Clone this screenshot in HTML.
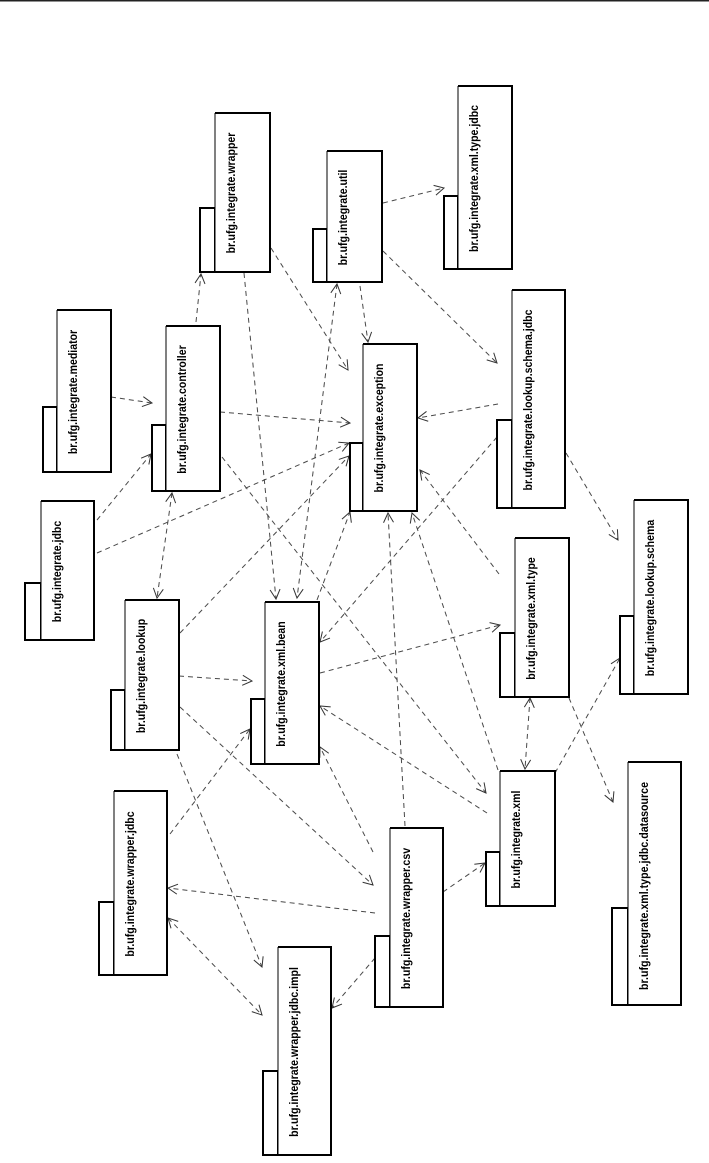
<!DOCTYPE html>
<html>
<head>
<meta charset="utf-8">
<style>
html,body{margin:0;padding:0;background:#fff;}
body{width:709px;height:1163px;overflow:hidden;}
svg{display:block;}
.d{stroke:#484848;stroke-width:1;stroke-dasharray:5,4;fill:none;marker-end:url(#a);}
.r{stroke:none;fill:none;marker-end:url(#a);}
.tab{fill:#fff;stroke:#000;stroke-width:2;}
.mf{fill:#fff;stroke:none;}
.mb{fill:none;stroke:#000;stroke-width:2;}
.ml{stroke:#000;stroke-width:1;}
text{font-family:"Liberation Sans",Arial,sans-serif;font-weight:bold;font-size:12px;fill:#000;}
</style>
</head>
<body>
<svg width="709" height="1163" viewBox="0 0 709 1163" xmlns="http://www.w3.org/2000/svg">
<defs>
<marker id="a" viewBox="0 0 12 12" refX="10" refY="6" markerWidth="12" markerHeight="12" orient="auto" markerUnits="userSpaceOnUse">
<path d="M0.5,1 L10,6 L0.5,11" fill="none" stroke="#333" stroke-width="1"/>
</marker>
</defs>
<rect x="0" y="0" width="709" height="1.5" fill="#222"/>

<!-- edges -->
<line class="d" x1="383" y1="203" x2="444" y2="188"/>
<line class="d" x1="360" y1="286" x2="368" y2="342"/>
<line class="d" x1="383" y1="251" x2="497" y2="363"/>
<line class="d" x1="271" y1="248" x2="348" y2="370"/>
<line class="d" x1="244" y1="273" x2="276" y2="599"/>
<line class="d" x1="196" y1="322" x2="201" y2="274"/>
<line class="d" x1="111" y1="397" x2="152" y2="403"/>
<line class="d" x1="220" y1="412" x2="350" y2="423"/>
<line class="d" x1="97" y1="520" x2="151" y2="454"/>
<line class="d" x1="97" y1="553" x2="349" y2="443"/>
<line class="d" x1="172" y1="493" x2="157" y2="598"/>
<line class="r" x1="157" y1="598" x2="172" y2="493"/>
<line class="d" x1="222" y1="457" x2="486" y2="793"/>
<line class="d" x1="180" y1="633" x2="349" y2="456"/>
<line class="d" x1="179" y1="676" x2="252" y2="681"/>
<line class="d" x1="180" y1="707" x2="373" y2="885"/>
<line class="d" x1="177" y1="754" x2="262" y2="967"/>
<line class="d" x1="320" y1="673" x2="500" y2="625"/>
<line class="d" x1="317" y1="600" x2="350" y2="512"/>
<line class="d" x1="566" y1="453" x2="618" y2="540"/>
<line class="d" x1="498" y1="404" x2="418" y2="418"/>
<line class="d" x1="497" y1="437" x2="320" y2="642"/>
<line class="d" x1="499" y1="574" x2="420" y2="470"/>
<line class="d" x1="530" y1="698" x2="525" y2="769"/>
<line class="r" x1="525" y1="769" x2="530" y2="698"/>
<line class="d" x1="569" y1="698" x2="613" y2="802"/>
<line class="d" x1="555" y1="773" x2="620" y2="658"/>
<line class="d" x1="498" y1="770" x2="412" y2="513"/>
<line class="d" x1="487" y1="813" x2="320" y2="706"/>
<line class="d" x1="405" y1="826" x2="388" y2="513"/>
<line class="d" x1="373" y1="852" x2="320" y2="747"/>
<line class="d" x1="443" y1="892" x2="485" y2="863"/>
<line class="d" x1="375" y1="913" x2="168" y2="888"/>
<line class="d" x1="375" y1="958" x2="332" y2="1008"/>
<line class="d" x1="170" y1="834" x2="250" y2="729"/>
<line class="d" x1="168" y1="918" x2="262" y2="1015"/>
<line class="r" x1="262" y1="1015" x2="168" y2="918"/>
<line class="d" x1="337" y1="284" x2="297" y2="598"/>
<line class="r" x1="297" y1="598" x2="337" y2="284"/>

<!-- packages -->
<!-- wrapper -->
<rect class="tab" x="200" y="208" width="15" height="64"/>
<rect class="mf" x="215" y="113" width="55" height="159"/>
<path class="mb" d="M215 113 H270 V272 H215"/>
<line class="ml" x1="215" y1="113" x2="215" y2="272"/>
<text transform="translate(235,193) rotate(-90)" text-anchor="middle" textLength="120.8" lengthAdjust="spacingAndGlyphs">br.ufg.integrate.wrapper</text>

<!-- util -->
<rect class="tab" x="313" y="229" width="14" height="53"/>
<rect class="mf" x="327" y="151" width="55" height="131"/>
<path class="mb" d="M327 151 H382 V282 H327"/>
<line class="ml" x1="327" y1="151" x2="327" y2="282"/>
<text transform="translate(347,217.5) rotate(-90)" text-anchor="middle" textLength="95.7" lengthAdjust="spacingAndGlyphs">br.ufg.integrate.util</text>

<!-- xml.type.jdbc -->
<rect class="tab" x="444" y="196" width="14" height="73"/>
<rect class="mf" x="458" y="86" width="54" height="183"/>
<path class="mb" d="M458 86 H512 V269 H458"/>
<line class="ml" x1="458" y1="86" x2="458" y2="269"/>
<text transform="translate(478,178.5) rotate(-90)" text-anchor="middle" textLength="147" lengthAdjust="spacingAndGlyphs">br.ufg.integrate.xml.type.jdbc</text>

<!-- mediator -->
<rect class="tab" x="43" y="407" width="14" height="65"/>
<rect class="mf" x="57" y="310" width="54" height="162"/>
<path class="mb" d="M57 310 H111 V472 H57"/>
<line class="ml" x1="57" y1="310" x2="57" y2="472"/>
<text transform="translate(77,392) rotate(-90)" text-anchor="middle" textLength="124.3" lengthAdjust="spacingAndGlyphs">br.ufg.integrate.mediator</text>

<!-- controller -->
<rect class="tab" x="152" y="425" width="14" height="66"/>
<rect class="mf" x="166" y="326" width="54" height="165"/>
<path class="mb" d="M166 326 H220 V491 H166"/>
<line class="ml" x1="166" y1="326" x2="166" y2="491"/>
<text transform="translate(186,409.5) rotate(-90)" text-anchor="middle" textLength="128.4" lengthAdjust="spacingAndGlyphs">br.ufg.integrate.controller</text>

<!-- exception -->
<rect class="tab" x="350" y="443" width="13" height="68"/>
<rect class="mf" x="363" y="344" width="54" height="167"/>
<path class="mb" d="M363 344 H417 V511 H363"/>
<line class="ml" x1="363" y1="344" x2="363" y2="511"/>
<text transform="translate(383,428) rotate(-90)" text-anchor="middle" textLength="128.9" lengthAdjust="spacingAndGlyphs">br.ufg.integrate.exception</text>

<!-- lookup.schema.jdbc -->
<rect class="tab" x="497" y="420" width="15" height="88"/>
<rect class="mf" x="512" y="290" width="53" height="218"/>
<path class="mb" d="M512 290 H565 V508 H512"/>
<line class="ml" x1="512" y1="290" x2="512" y2="508"/>
<text transform="translate(532,400) rotate(-90)" text-anchor="middle" textLength="180.9" lengthAdjust="spacingAndGlyphs">br.ufg.integrate.lookup.schema.jdbc</text>

<!-- jdbc -->
<rect class="tab" x="25" y="583" width="16" height="57"/>
<rect class="mf" x="41" y="501" width="53" height="139"/>
<path class="mb" d="M41 501 H94 V640 H41"/>
<line class="ml" x1="41" y1="501" x2="41" y2="640"/>
<text transform="translate(61,571.5) rotate(-90)" text-anchor="middle" textLength="101.5" lengthAdjust="spacingAndGlyphs">br.ufg.integrate.jdbc</text>

<!-- xml.type -->
<rect class="tab" x="500" y="633" width="15" height="64"/>
<rect class="mf" x="515" y="538" width="54" height="159"/>
<path class="mb" d="M515 538 H569 V697 H515"/>
<line class="ml" x1="515" y1="538" x2="515" y2="697"/>
<text transform="translate(535,618.5) rotate(-90)" text-anchor="middle" textLength="122.5" lengthAdjust="spacingAndGlyphs">br.ufg.integrate.xml.type</text>

<!-- lookup.schema -->
<rect class="tab" x="620" y="616" width="14" height="78"/>
<rect class="mf" x="634" y="500" width="54" height="194"/>
<path class="mb" d="M634 500 H688 V694 H634"/>
<line class="ml" x1="634" y1="500" x2="634" y2="694"/>
<text transform="translate(654,598) rotate(-90)" text-anchor="middle" textLength="156.4" lengthAdjust="spacingAndGlyphs">br.ufg.integrate.lookup.schema</text>

<!-- lookup -->
<rect class="tab" x="111" y="690" width="14" height="60"/>
<rect class="mf" x="125" y="600" width="54" height="150"/>
<path class="mb" d="M125 600 H179 V750 H125"/>
<line class="ml" x1="125" y1="600" x2="125" y2="750"/>
<text transform="translate(145,676) rotate(-90)" text-anchor="middle" textLength="114.3" lengthAdjust="spacingAndGlyphs">br.ufg.integrate.lookup</text>

<!-- xml.bean -->
<rect class="tab" x="251" y="699" width="14" height="65"/>
<rect class="mf" x="265" y="602" width="54" height="162"/>
<path class="mb" d="M265 602 H319 V764 H265"/>
<line class="ml" x1="265" y1="602" x2="265" y2="764"/>
<text transform="translate(285,684) rotate(-90)" text-anchor="middle" textLength="125.4" lengthAdjust="spacingAndGlyphs">br.ufg.integrate.xml.bean</text>

<!-- wrapper.jdbc -->
<rect class="tab" x="99" y="902" width="15" height="73"/>
<rect class="mf" x="114" y="791" width="53" height="184"/>
<path class="mb" d="M114 791 H167 V975 H114"/>
<line class="ml" x1="114" y1="791" x2="114" y2="975"/>
<text transform="translate(134,884) rotate(-90)" text-anchor="middle" textLength="145.3" lengthAdjust="spacingAndGlyphs">br.ufg.integrate.wrapper.jdbc</text>

<!-- xml -->
<rect class="tab" x="486" y="852" width="14" height="54"/>
<rect class="mf" x="500" y="771" width="55" height="135"/>
<path class="mb" d="M500 771 H555 V906 H500"/>
<line class="ml" x1="500" y1="771" x2="500" y2="906"/>
<text transform="translate(520,839.5) rotate(-90)" text-anchor="middle" textLength="98" lengthAdjust="spacingAndGlyphs">br.ufg.integrate.xml</text>

<!-- wrapper.csv -->
<rect class="tab" x="375" y="936" width="15" height="71"/>
<rect class="mf" x="390" y="828" width="53" height="179"/>
<path class="mb" d="M390 828 H443 V1007 H390"/>
<line class="ml" x1="390" y1="828" x2="390" y2="1007"/>
<text transform="translate(410,918.5) rotate(-90)" text-anchor="middle" textLength="141.2" lengthAdjust="spacingAndGlyphs">br.ufg.integrate.wrapper.csv</text>

<!-- xml.type.jdbc.datasource -->
<rect class="tab" x="612" y="908" width="16" height="97"/>
<rect class="mf" x="628" y="762" width="53" height="243"/>
<path class="mb" d="M628 762 H681 V1005 H628"/>
<line class="ml" x1="628" y1="762" x2="628" y2="1005"/>
<text transform="translate(648,886) rotate(-90)" text-anchor="middle" textLength="208" lengthAdjust="spacingAndGlyphs">br.ufg.integrate.xml.type.jdbc.datasource</text>

<!-- wrapper.jdbc.impl -->
<rect class="tab" x="263" y="1071" width="15" height="84"/>
<rect class="mf" x="278" y="947" width="53" height="208"/>
<path class="mb" d="M278 947 H331 V1155 H278"/>
<line class="ml" x1="278" y1="947" x2="278" y2="1155"/>
<text transform="translate(298,1052) rotate(-90)" text-anchor="middle" textLength="169.8" lengthAdjust="spacingAndGlyphs">br.ufg.integrate.wrapper.jdbc.impl</text>
</svg>
</body>
</html>
